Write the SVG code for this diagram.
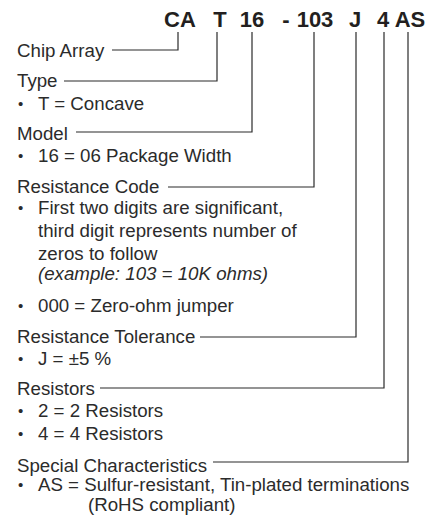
<svg xmlns="http://www.w3.org/2000/svg" width="440" height="520" viewBox="0 0 440 520">
<style>
text{font-family:"Liberation Sans",Arial,sans-serif;fill:#2b2b2b}
.code{font-size:22px;font-weight:bold;text-anchor:middle;fill:#231f20}
.lbl{font-size:18.7px}
.bul{font-size:15px}
.it{font-style:italic}
.conn{fill:none;stroke:#2b2b2b;stroke-width:1.2}
</style>
<rect width="440" height="520" fill="#fff"/>
<g id="code">
<text class="code" x="180" y="27">CA</text>
<text class="code" x="220" y="27">T</text>
<text class="code" x="252" y="27">16</text>
<text class="code" x="286" y="27">-</text>
<text class="code" x="315" y="27">103</text>
<text class="code" x="355" y="27">J</text>
<text class="code" x="383" y="27">4</text>
<text class="code" x="410" y="27">AS</text>
</g>
<g id="connectors">
<polyline class="conn" points="112,50 178,50 178,32"/>
<polyline class="conn" points="64,81 217,81 217,32"/>
<polyline class="conn" points="76,132 252,132 252,32"/>
<polyline class="conn" points="168,187 314,187 314,32"/>
<polyline class="conn" points="200,337 356,337 356,32"/>
<polyline class="conn" points="100,388 384,388 384,32"/>
<polyline class="conn" points="213,462 408,462 408,32"/>
</g>
<g id="chip-array"><text class="lbl" x="17" y="57">Chip Array</text></g>
<g id="type">
<text class="lbl" x="17" y="87">Type</text>
<text class="bul" x="18" y="109">•</text><text class="lbl" x="38" y="110">T = Concave</text>
</g>
<g id="model">
<text class="lbl" x="17" y="140">Model</text>
<text class="bul" x="18" y="161">•</text><text class="lbl" x="38" y="162">16 = 06 Package Width</text>
</g>
<g id="resistance-code">
<text class="lbl" x="17" y="193">Resistance Code</text>
<text class="bul" x="18" y="213">•</text><text class="lbl" x="38" y="214">First two digits are significant,</text>
<text class="lbl" x="38" y="237">third digit represents number of</text>
<text class="lbl" x="38" y="260">zeros to follow</text>
<text class="lbl it" x="38" y="280">(example: 103 = 10K ohms)</text>
<text class="bul" x="18" y="311">•</text><text class="lbl" x="38" y="312">000 = Zero-ohm jumper</text>
</g>
<g id="resistance-tolerance">
<text class="lbl" x="17" y="343">Resistance Tolerance</text>
<text class="bul" x="18" y="364">•</text><text class="lbl" x="38" y="365">J = ±5 %</text>
</g>
<g id="resistors">
<text class="lbl" x="17" y="395">Resistors</text>
<text class="bul" x="18" y="416">•</text><text class="lbl" x="38" y="417">2 = 2 Resistors</text>
<text class="bul" x="18" y="439">•</text><text class="lbl" x="38" y="440">4 = 4 Resistors</text>
</g>
<g id="special-characteristics">
<text class="lbl" x="17" y="472">Special Characteristics</text>
<text class="bul" x="18" y="490">•</text><text class="lbl" x="38" y="491">AS = Sulfur-resistant, Tin-plated terminations</text>
<text class="lbl" x="88" y="511">(RoHS compliant)</text>
</g>
</svg>
